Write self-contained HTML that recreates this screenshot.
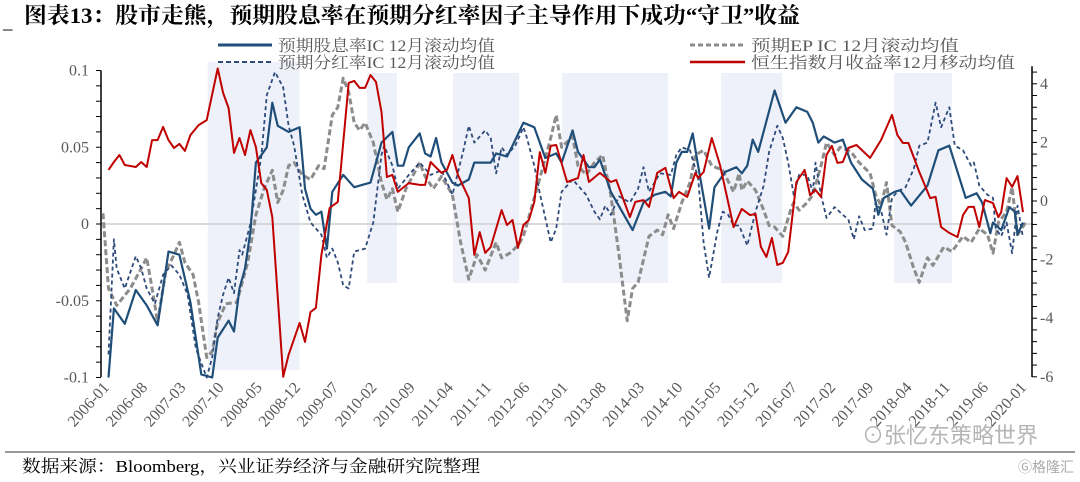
<!DOCTYPE html>
<html><head><meta charset="utf-8"><style>
body{margin:0;background:#fff;}
svg{display:block;font-family:"Liberation Serif","Noto Serif CJK SC",serif;}
</style></head><body>
<svg id="chart" width="1080" height="482" viewBox="0 0 1080 482" xmlns="http://www.w3.org/2000/svg">
<text x="24" y="23" font-size="22" font-weight="bold" fill="#000" textLength="776" lengthAdjust="spacingAndGlyphs">图表13：股市走熊，预期股息率在预期分红率因子主导作用下成功“守卫”收益</text>
<text x="3" y="28" font-size="19" fill="#000">_</text>
<g id="bands"></g>
<g id="axes"></g>
<g id="series"></g>
<g id="legend">
 <line x1="218" y1="45" x2="272" y2="45" stroke="#1f4e79" stroke-width="3"/>
 <text x="278" y="51" font-size="16" fill="#595959" textLength="217" lengthAdjust="spacingAndGlyphs">预期股息率IC 12月滚动均值</text>
 <line x1="218" y1="62" x2="272" y2="62" stroke="#2e4a7a" stroke-width="2" stroke-dasharray="5,3"/>
 <text x="278" y="68" font-size="16" fill="#595959" textLength="217" lengthAdjust="spacingAndGlyphs">预期分红率IC 12月滚动均值</text>
 <line x1="690" y1="45" x2="745" y2="45" stroke="#8c8c8c" stroke-width="3" stroke-dasharray="5,3"/>
 <text x="751" y="51" font-size="16" fill="#595959" textLength="208" lengthAdjust="spacingAndGlyphs">预期EP IC 12月滚动均值</text>
 <line x1="690" y1="62" x2="745" y2="62" stroke="#c00000" stroke-width="2.5"/>
 <text x="751" y="68" font-size="16" fill="#595959" textLength="264" lengthAdjust="spacingAndGlyphs">恒生指数月收益率12月移动均值</text>
</g>
<text x="862" y="443" font-size="22" fill="#b5b5b5" font-family="Liberation Sans,Noto Sans CJK SC,sans-serif">⊙张忆东策略世界</text>
<line x1="5" y1="452" x2="1075" y2="452" stroke="#999" stroke-width="2"/>
<text x="22" y="472" font-size="17" fill="#000" textLength="458" lengthAdjust="spacingAndGlyphs">数据来源：Bloomberg，兴业证券经济与金融研究院整理</text>
<text x="1018" y="472" font-size="14" fill="#aaa" font-family="Liberation Sans,Noto Sans CJK SC,sans-serif">Ⓖ格隆汇</text>
</svg>
<script>
const NS="http://www.w3.org/2000/svg";
const startYear=2006;
const xLabelMonths=[0,7,14,21,28,35,42,49,56,63,70,77,84,91,98,105,112,119,126,133,140,147,154,161,168];
const leftTicks=[0.1,0.05,0,-0.05,-0.1];
const leftTickLabels=["0.1","0.05","0","-0.05","-0.1"];
const rightTicks=[4,2,0,-2,-4,-6];
const bandStarts=[19.2,48.4,64.1,84.1,113.2,144.9];
const bandEnds=[36,53.8,76.2,103.5,124.4,155.5];
const dyM=[1,2,4,6,8,10,12,14,16,18,20,21,23,24,25,26,27,28,30,31,32,34,36,37,38,39,40,41,42,44,46,49,51,53,54,55,56,58,59,60,61,62,64,65,67,68,71,72,74,75,77,79,80,81,83,84,86,87,89,90,91,93,97,99,101,103,104,105,106,107,108,109,111,112,114,116,117,118,119,120,123,125,127,129,130,131,132,134,135.5,137,139,141,142,143,145,146,148,151,153,155,156.5,158,160,161,162.5,163,164.5,166,167,167.5,168.5];
const dyV=[-0.1,-0.055,-0.065,-0.043,-0.053,-0.066,-0.018,-0.02,-0.051,-0.098,-0.1,-0.074,-0.063,-0.07,-0.042,-0.029,-0.005,0.04,0.05,0.079,0.064,0.06,0.063,0.023,0.01,0.006,0.008,-0.016,0.021,0.032,0.024,0.027,0.053,0.06,0.038,0.038,0.05,0.059,0.046,0.044,0.056,0.04,0.027,0.025,0.029,0.04,0.04,0.046,0.044,0.051,0.066,0.063,0.053,0.043,0.046,0.04,0.061,0.047,0.037,0.037,0.042,0.021,-0.004,0.014,0.019,0.021,0.018,0.04,0.047,0.047,0.059,0.038,-0.003,0.024,0.034,0.037,0.033,0.038,0.055,0.047,0.087,0.066,0.076,0.073,0.066,0.053,0.057,0.053,0.055,0.04,0.029,0.023,0.006,0.017,0.021,0.022,0.012,0.025,0.048,0.051,0.034,0.017,0.02,0.014,-0.006,0.001,-0.004,0.011,0.008,-0.007,0.001];
const epM=[0,1,2.5,5,7,8,9,10,11.5,13,14,15,16.5,17.5,19,20,21,22.5,24.5,26.5,28,29.5,31,32,33,34,35,36.5,38,39.5,40.5,42,43,44,45,46,47,48,49.5,51,52,53,54,55.5,58,59,60.5,62,63,64,65.5,67,68.5,70,72,73,74.5,76,77,79,80.5,82,83,84,86,87,88.5,90,91.5,93,94.5,96,97,98,100,101.5,102.5,103.5,104.5,106,107.5,108.5,110,111.5,113.5,115.5,116.5,117,118,119.5,121,122,123,124.5,126,126.5,127.5,129,130,131.5,132.5,134,135,137,138.5,140.5,141.5,142.5,143.5,144.5,146,147,148.5,149.5,151,152,154,155.5,157.5,159,160.5,162,163,164,165.5,166.5,167.5,169];
const epV=[0.007,-0.042,-0.053,-0.042,-0.029,-0.022,-0.042,-0.064,-0.031,-0.02,-0.012,-0.025,-0.033,-0.051,-0.087,-0.083,-0.064,-0.052,-0.051,-0.025,0.006,0.023,0.035,0.014,0.022,0.038,0.04,0.032,0.029,0.038,0.036,0.071,0.076,0.095,0.086,0.066,0.061,0.066,0.053,0.027,0.016,0.023,0.008,0.023,0.04,0.031,0.023,0.031,0.025,0.019,-0.012,-0.036,-0.02,-0.03,-0.012,-0.022,-0.019,-0.014,-0.008,0.017,0.036,0.056,0.071,0.05,0.057,0.038,0.032,0.04,0.045,0.019,-0.02,-0.063,-0.042,-0.038,-0.008,-0.004,-0.007,0.006,-0.003,0.014,0.027,0.045,0.048,0.038,0.035,0.021,0.033,0.022,0.028,0.022,0.009,-0.001,-0.002,-0.008,0.01,0.014,0.009,0.014,0.019,0.038,0.053,0.045,0.05,0.047,0.04,0.033,0.019,0.012,0.027,-0.001,-0.005,-0.012,-0.029,-0.038,-0.022,-0.027,-0.015,-0.018,-0.008,-0.012,-0.003,-0.007,-0.019,0.001,0.008,0.024,-0.007,0.001];
const dvM=[1,2,2.5,4,6,7,8,9.5,11,12.5,14,15.5,17,19,20,21,22,23,24,25,25.5,27,29,30,31.5,33,34,35,36.5,38,40,41,42,43,44,45,46,48,49.5,51,51.5,53,54,56,58,60,62,64,66,67,68,70,71,72,73,74,75.5,77,77.5,79,80,81,82,83,84,86,88,88.5,90,91,92,93,94.5,96.5,98,99,100,102,104,105,106,107.5,109,110,111,112.5,113.5,114.5,115.5,116.5,118,119.5,121,122,123.5,124.5,125.5,126.5,127.5,129,130,130.5,131.5,132.5,134,135.5,136.5,137.5,138.5,139.5,141,141.5,142.5,143.5,144.5,145.5,147,148.5,149.5,151,152.5,153.5,155,156,157.5,159,159.5,160.5,162,163,163.5,164.5,165.5,166.5,167.5,168.5];
const dvV=[-0.085,-0.01,-0.029,-0.042,-0.021,-0.029,-0.042,-0.052,-0.033,-0.027,-0.033,-0.046,-0.081,-0.1,-0.087,-0.061,-0.046,-0.035,-0.045,-0.017,-0.02,0,0.044,0.084,0.099,0.089,0.064,0.051,0.019,0.001,-0.007,-0.022,-0.016,-0.025,-0.04,-0.042,-0.018,-0.016,0.001,0.045,0.051,0.038,0.023,0.032,0.04,0.032,0.035,0.019,0.048,0.064,0.053,0.061,0.056,0.033,0.05,0.045,0.051,0.063,0.058,0.038,0.02,0.004,-0.012,-0.003,0.021,0.029,0.021,0.019,0.008,0.003,0.012,0.006,0.018,0.014,0.023,0.037,0.021,0.033,0.032,0.045,0.05,0.048,0.03,-0.012,-0.035,-0.005,0.008,0.006,-0.001,-0.001,-0.014,0.008,0.025,0.047,0.064,0.056,0.04,0.019,0.032,0.032,0.021,0.04,0.019,0.004,0.011,0.006,0.003,-0.01,0.005,-0.004,-0.003,0.014,0.009,-0.007,0.017,0.021,0.024,0.036,0.051,0.053,0.079,0.063,0.076,0.051,0.048,0.038,0.04,0.025,0.019,0.017,-0.003,-0.008,0.001,-0.019,0.012,-0.009];
const hsM=[1,2,3,4,6,7,8,9,10,11,12,13,14,15,16,17.5,19,21,22,23,24,25,26,27,28,29,30,31,33,34,36,37,38,39,40,41.5,43,45,46,47,48,49,50,51,52,53,54,56,58,59,60,62,63,64,65,67,68,69,70,71,73,74,75,76,77,78,79,80,81,82,83,85,87,88,89,91,93,94,96.5,97.5,99,100,101.5,103,104.5,105.5,107,108.5,109,110,111.5,113,115.5,117,118.5,119.5,120.5,121.5,122.5,123.5,124.5,125.5,127,128.5,129.5,130.5,131.5,132.5,133.5,134.5,135.5,136.5,138,140.5,142.5,144.5,145.5,146.5,147.5,149.5,151.5,152.5,153.5,155,156.5,157.5,158.5,159.5,160.5,161.5,163,164,164.5,165.5,166.5,167.5,168.5];
const hsV=[1.06,1.33,1.57,1.23,1.16,1.33,1.16,2.08,2.08,2.53,2.08,1.81,1.95,1.71,2.25,2.59,2.76,4.7,3.69,3.17,1.64,2.15,1.57,2.42,1.84,0.61,0.38,-0.55,-6,-5.25,-4.16,-4.81,-3.79,-3.65,-1.84,-0.24,-0.03,4.03,4.1,3.86,3.86,4.3,4.06,3.04,0.82,0.89,0.31,0.61,0.55,0.55,1.33,0.96,1.06,1.57,0.89,0.1,-1.84,-1.06,-1.77,-1.57,-0.31,-0.82,-0.65,-1.6,-0.82,-0.65,-0.03,1.67,0.96,1.88,1.91,0.65,0.78,1.57,0.65,0.96,0.65,0.72,-0.55,-0.03,0.03,-0.2,0.96,1.13,0.1,0.31,0.14,0.96,0.78,0.99,2.15,1.23,-0.89,-0.27,-0.48,-0.44,-1.57,-1.91,-1.26,-2.18,-2.11,-1.74,0.65,1.06,0.2,0.38,0.14,1.57,1.88,1.3,1.33,1.81,1.91,1.47,2.08,2.94,2.25,1.98,1.98,0.99,0.1,0.14,-0.89,-1.09,-1.23,-0.48,-0.2,-0.2,-0.89,0.03,-0.07,-0.55,-0.38,0.78,0.48,0.85,-0.38];

const X0=103, XM=5.46, AXL=101, AXR=1032, TOP=70.5, BOT=377;
const xs=m=>X0+m*XM;
const yL=v=>224-v*1535;
const yR=r=>201-r*29.3;

function mk(tag,attrs,parent){const e=document.createElementNS(NS,tag);for(const k in attrs)e.setAttribute(k,attrs[k]);parent.appendChild(e);return e;}
const bands=document.getElementById('bands'),axes=document.getElementById('axes'),series=document.getElementById('series');

bandStarts.forEach((s,i)=>{
  const r=mk('rect',{x:xs(s),y:i==0?62:73,width:xs(bandEnds[i])-xs(s),height:(i==0?370:283)-(i==0?62:73),fill:'#eef1f9'},bands);
  
  
});

const z=mk('line',{x1:AXL,x2:AXR,y1:yL(0),y2:yL(0),stroke:'#cfcfcf','stroke-width':1.5},axes);


const la=mk('line',{x1:AXL,x2:AXL,y1:TOP,y2:BOT,stroke:'#000','stroke-width':1.5},axes);


for(let k=-10;k<=10;k++){mk('line',{x1:AXL-5,x2:AXL,y1:yL(k/100),y2:yL(k/100),stroke:'#000','stroke-width':1},axes);}
leftTicks.forEach((v,i)=>{
  const t=mk('text',{x:AXL-12,y:yL(v)+5,'text-anchor':'end','font-size':16,fill:'#595959'},axes);
  t.textContent=leftTickLabels[i];
  
  
});
const ra=mk('line',{x1:AXR,x2:AXR,y1:yR(4.6),y2:BOT,stroke:'#000','stroke-width':1.5},axes);


for(let k=0;k<=26;k++){const r=-6+k*0.4;mk('line',{x1:AXR,x2:AXR+5,y1:yR(r),y2:yR(r),stroke:'#000','stroke-width':1},axes);}
rightTicks.forEach(v=>{
  const t=mk('text',{x:AXR+8,y:yR(v)+5,'font-size':16,fill:'#595959'},axes);
  t.textContent=String(v);
  
  
});
xLabelMonths.forEach(m=>{
  const y=startYear+Math.floor(m/12), mo=m%12+1;
  const x=xs(m)+7, yy=388;
  const t=mk('text',{x:x,y:yy,'text-anchor':'end','font-size':16,fill:'#595959',transform:`rotate(-48 ${x} ${yy})`},axes);
  t.textContent=y+'-'+(mo<10?'0':'')+mo;
  
  
});

function line(ms,vs,yf,attrs,name){
  const d=ms.map((m,i)=>(i?'L':'M')+xs(m).toFixed(1)+','+Math.max(TOP-2,Math.min(BOT+1,yf(vs[i]))).toFixed(1)).join('');
  const p=mk('path',Object.assign({d:d,fill:'none','stroke-linejoin':'round'},attrs),series);
  
  
}
line(epM,epV,yL,{stroke:'#8c8c8c','stroke-width':3,'stroke-dasharray':'6,3'},'ep-ic-line');
line(dvM,dvV,yL,{stroke:'#2e4a7a','stroke-width':1.8,'stroke-dasharray':'4,3'},'dividend-ic-line');
line(dyM,dyV,yL,{stroke:'#1f4e79','stroke-width':2.2},'dividend-yield-ic-line');
line(hsM,hsV,yR,{stroke:'#c00000','stroke-width':2},'hsi-return-line');
</script>
</body></html>
